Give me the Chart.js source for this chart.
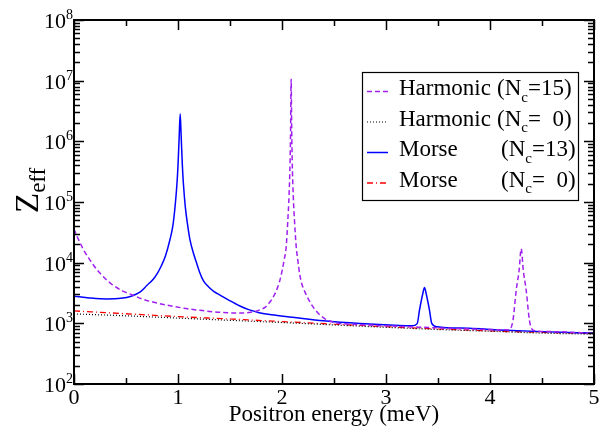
<!DOCTYPE html>
<html>
<head>
<meta charset="utf-8">
<script src="https://cdn.jsdelivr.net/npm/chart.js@4.4.0/dist/chart.umd.min.js"></script>
<style>
  html, body { margin: 0; padding: 0; background: #fff; }
</style>
</head>
<body>
<canvas id="zeffChart" width="601" height="430"></canvas>
<script>
// =====================
//  DATA
// =====================
const harmNc15X = [0, 0.03, 0.06, 0.09, 0.14, 0.19, 0.24, 0.28, 0.33, 0.38, 0.47, 0.57, 0.66, 0.76, 0.86, 0.96, 1.08, 1.21, 1.40, 1.59, 1.70, 1.78, 1.84, 1.88, 1.92, 1.96, 1.99, 2.02, 2.04, 2.056, 2.068, 2.078, 2.083, 2.088, 2.093, 2.098, 2.108, 2.12, 2.137, 2.152, 2.17, 2.19, 2.22, 2.26, 2.30, 2.35, 2.41, 2.47, 2.52, 2.6, 2.75, 3.13, 3.6, 4.0, 4.18, 4.22, 4.252, 4.28, 4.30, 4.32, 4.348, 4.38, 4.42, 4.6, 5.0];
const harmNc15Y = [36000, 27000, 21000, 16500, 12000, 9000, 7000, 5900, 4900, 4200, 3400, 2900, 2500, 2240, 2050, 1900, 1750, 1640, 1520, 1480, 1520, 1650, 1850, 2200, 2800, 4000, 6000, 11000, 18000, 50000, 130000, 490000, 1700000, 10600000, 1700000, 490000, 130000, 50000, 18000, 11000, 6500, 4500, 3300, 2400, 1850, 1450, 1200, 1080, 1010, 980, 950, 890, 830, 790, 780, 1100, 3500, 7500, 17000, 7500, 3500, 1100, 760, 730, 685];

const morseNc13X = [0, 0.15, 0.315, 0.45, 0.55, 0.637, 0.70, 0.764, 0.80, 0.84, 0.88, 0.92, 0.95, 0.971, 0.99, 1.00, 1.011, 1.021, 1.031, 1.042, 1.052, 1.071, 1.09, 1.113, 1.15, 1.181, 1.207, 1.245, 1.30, 1.35, 1.40, 1.50, 1.59, 1.68, 1.78, 1.90, 2.10, 2.40, 2.75, 3.13, 3.25, 3.30, 3.322, 3.354, 3.37, 3.386, 3.418, 3.44, 3.49, 3.8, 4.09, 4.5, 5.0];
const morseNc13Y = [2800, 2620, 2520, 2580, 2800, 3300, 4200, 5400, 6600, 8900, 13000, 23000, 40000, 81000, 200000, 400000, 1150000, 2850000, 1150000, 400000, 200000, 81000, 45000, 25000, 14000, 9600, 7000, 5000, 3900, 3300, 2950, 2350, 1950, 1680, 1500, 1380, 1260, 1100, 990, 920, 910, 990, 1650, 3100, 3900, 3100, 1650, 1000, 880, 830, 780, 730, 690];

const noCoupleX = [0, 0.5, 1, 1.5, 2, 2.5, 3, 3.5, 4, 4.5, 5];
const harmNc0Y = [1430, 1330, 1220, 1120, 1030, 940, 860, 790, 740, 690, 660];
const morseNc0Y = [1600, 1440, 1290, 1180, 1070, 970, 880, 810, 750, 710, 680];

const legendNames = ["Harmonic", "Harmonic", "Morse", "Morse"];
const legendNc = ["=15)", "=  0)", "=13)", "=  0)"];

const xMajorTicks = [0, 1, 2, 3, 4, 5];
const xMinorTicks = [0.5, 1.5, 2.5, 3.5, 4.5];
const yDecades = [2, 3, 4, 5, 6, 7, 8];

const SERIF = '"Liberation Serif", "Times New Roman", serif';

function pts(xs, ys) {
    return xs.map((x, i) => ({ x: x, y: ys[i] }));
}

// =====================
//  SERIES STYLES
// =====================
const seriesStyles = [
    { color: "#a020f0", dash: [5, 3], width: 1.5 },      // Harmonic Nc=15
    { color: "#000000", dash: [1, 2], width: 1.2 },      // Harmonic Nc=0
    { color: "#0000ff", dash: [], width: 1.5 },          // Morse Nc=13
    { color: "#ff0000", dash: [6, 3, 1, 3], width: 1.3 } // Morse Nc=0
];

// =====================
//  FRAME / TICKS / LABELS / LEGEND
// =====================
const framePlugin = {
    id: "frame",
    afterDatasetsDraw(chart) {
        const ctx = chart.ctx;
        const a = chart.chartArea;
        const xs = chart.scales.x;
        const ys = chart.scales.y;
        ctx.save();
        ctx.strokeStyle = "#000";
        ctx.fillStyle = "#000";

        // ticks (inside, on all four sides)
        ctx.lineWidth = 1.5;
        ctx.beginPath();
        xMajorTicks.forEach((v) => {
            const p = Math.round(xs.getPixelForValue(v)) + 0.5;
            ctx.moveTo(p, a.bottom); ctx.lineTo(p, a.bottom - 10);
            ctx.moveTo(p, a.top); ctx.lineTo(p, a.top + 10);
        });
        xMinorTicks.forEach((v) => {
            const p = Math.round(xs.getPixelForValue(v)) + 0.5;
            ctx.moveTo(p, a.bottom); ctx.lineTo(p, a.bottom - 6);
            ctx.moveTo(p, a.top); ctx.lineTo(p, a.top + 6);
        });
        yDecades.forEach((d) => {
            const p = Math.round(ys.getPixelForValue(Math.pow(10, d))) + 0.5;
            ctx.moveTo(a.left, p); ctx.lineTo(a.left + 10, p);
            ctx.moveTo(a.right, p); ctx.lineTo(a.right - 10, p);
            if (d < 8) {
                for (let m = 2; m <= 9; m++) {
                    const q = Math.round(ys.getPixelForValue(m * Math.pow(10, d))) + 0.5;
                    ctx.moveTo(a.left, q); ctx.lineTo(a.left + 6, q);
                    ctx.moveTo(a.right, q); ctx.lineTo(a.right - 6, q);
                }
            }
        });
        ctx.stroke();

        // box
        ctx.lineWidth = 2;
        ctx.strokeRect(a.left, a.top, a.right - a.left, a.bottom - a.top);

        // x tick labels
        ctx.font = "22px " + SERIF;
        ctx.textAlign = "center";
        ctx.textBaseline = "alphabetic";
        xMajorTicks.forEach((v) => {
            ctx.fillText(String(v), xs.getPixelForValue(v), 404);
        });

        // y tick labels: 10 with superscript exponent
        yDecades.forEach((d) => {
            const p = ys.getPixelForValue(Math.pow(10, d));
            ctx.font = "14px " + SERIF;
            const wSup = ctx.measureText(String(d)).width;
            ctx.textAlign = "left";
            const right = a.left - 1;
            ctx.fillText(String(d), right - wSup, p - 1);
            ctx.font = "22px " + SERIF;
            ctx.textAlign = "right";
            ctx.fillText("10", right - wSup, p + 8);
        });

        // x title
        ctx.font = "23px " + SERIF;
        ctx.textAlign = "center";
        ctx.fillText("Positron energy (meV)", (a.left + a.right) / 2, 421);

        // y title Z_eff (rotated)
        ctx.save();
        ctx.translate(38, 213);
        ctx.rotate(-Math.PI / 2);
        ctx.textAlign = "left";
        ctx.font = "33px " + SERIF;
        ctx.fillText("Z", 0, 0);
        const wz = ctx.measureText("Z").width;
        ctx.font = "23px " + SERIF;
        ctx.fillText("eff", wz, 7);
        ctx.restore();

        // legend
        const bx = 362, by = 72, bw = 216, bh = 128;
        ctx.fillStyle = "#fff";
        ctx.fillRect(bx, by, bw, bh);
        ctx.lineWidth = 1.2;
        ctx.strokeStyle = "#000";
        ctx.strokeRect(bx + 0.5, by + 0.5, bw, bh);
        legendNames.forEach((name, i) => {
            const base = 95 + i * 30.5;
            const st = seriesStyles[i];
            ctx.save();
            ctx.strokeStyle = st.color;
            ctx.lineWidth = st.width;
            ctx.setLineDash(st.dash);
            ctx.beginPath();
            ctx.moveTo(367, base - 3.5);
            ctx.lineTo(388, base - 3.5);
            ctx.stroke();
            ctx.restore();

            ctx.fillStyle = "#000";
            ctx.textAlign = "left";
            ctx.font = "23px " + SERIF;
            ctx.fillText(name, 399, base);
            const px = i < 2 ? 497 : 501;
            ctx.fillText("(N", px, base);
            const wN = ctx.measureText("(N").width;
            ctx.font = "15px " + SERIF;
            ctx.fillText("c", px + wN, base + 6.5);
            const wc = ctx.measureText("c").width;
            ctx.font = "23px " + SERIF;
            ctx.fillText(legendNc[i], px + wN + wc, base);
        });
        ctx.restore();
    }
};

// =====================
//  CHART
// =====================
const ctx = document.getElementById("zeffChart").getContext("2d");

const seriesData = [
    pts(harmNc15X, harmNc15Y),
    pts(noCoupleX, harmNc0Y),
    pts(morseNc13X, morseNc13Y),
    pts(noCoupleX, morseNc0Y)
];
const seriesNames = ["Harmonic (Nc=15)", "Harmonic (Nc= 0)", "Morse (Nc=13)", "Morse (Nc= 0)"];

let zeffChart = new Chart(ctx, {
    type: "line",
    data: {
        datasets: seriesData.map((d, i) => ({
            label: seriesNames[i],
            data: d,
            borderColor: seriesStyles[i].color,
            borderWidth: seriesStyles[i].width,
            borderDash: seriesStyles[i].dash,
            pointRadius: 0,
            cubicInterpolationMode: "monotone",
            fill: false
        }))
    },
    options: {
        responsive: false,
        devicePixelRatio: 1,
        animation: false,
        layout: { padding: { top: 20, right: 7, left: 0, bottom: 0 } },
        plugins: {
            legend: { display: false },
            tooltip: { enabled: false }
        },
        scales: {
            x: {
                type: "linear",
                min: 0,
                max: 5,
                grid: { display: false },
                border: { display: false },
                ticks: { display: false },
                afterFit: (s) => { s.height = 46; }
            },
            y: {
                type: "logarithmic",
                min: 100,
                max: 1e8,
                grid: { display: false },
                border: { display: false },
                ticks: { display: false },
                afterFit: (s) => { s.width = 74; }
            }
        }
    },
    plugins: [framePlugin]
});
</script>
</body>
</html>
